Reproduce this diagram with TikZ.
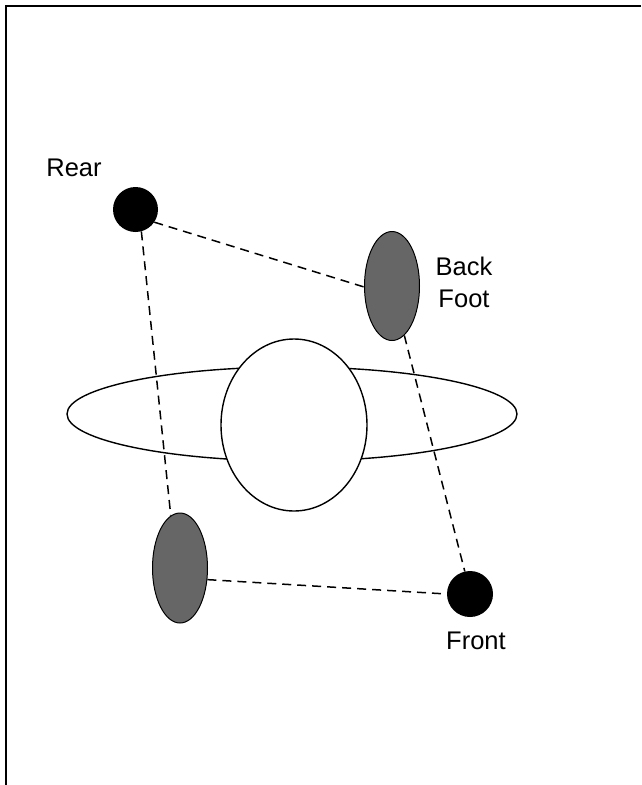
\documentclass[tikz,border=0pt]{standalone}
\usepackage{fontspec}
\setmainfont{Liberation Sans}
\usetikzlibrary{shapes.geometric}
\begin{document}
\begin{tikzpicture}[x=1pt,y=-1pt,
  frameline/.style={line width=2.2pt,black},
  dot/.style={circle,fill=black,inner sep=0pt,minimum size=45pt},
  foot/.style={ellipse,draw=black,line width=1pt,fill=black!60,inner sep=0pt,minimum width=55pt,minimum height=109pt},
  link/.style={dashed,dash pattern=on 9pt off 6pt,line width=1.5pt},
  lbl/.style={font=\fontsize{25.5}{32}\selectfont,align=center,inner sep=0pt},
  outline/.style={draw=black,line width=1.4pt}]
\useasboundingbox (0,0) rectangle (641,785);
% frame edges (top and left)
\coordinate (ftl) at (6,6);
\coordinate (ftr) at (641,6);
\coordinate (fbl) at (6,785);
\draw[frameline] (ftr) -- (ftl) -- (fbl);

% body: wide ellipse with the round torso over it
\node[ellipse,outline,inner sep=0pt,minimum width=450pt,minimum height=94pt] (wing) at (292,414) {};
\node[ellipse,outline,fill=white,inner sep=0pt,minimum width=146pt,minimum height=172pt] (torso) at (294,425) {};

% contact points
\node[dot] (rear) at (135.5,209.5) {};
\node[dot,minimum size=46pt] (front) at (470,594) {};
\node[foot] (bf) at (392,286) {};
\node[foot,minimum height=110pt] (ff) at (180,568) {};

% labels
\node[lbl] (rearlbl) at (74,168) {Rear};
\node[lbl] (bflbl) at (464,282) {Back\\Foot};
\node[lbl] (frontlbl) at (476,641) {Front};

% dashed support polygon
\draw[link] (rear.-34) -- (bf.182);
\draw[link] (rear.-75) -- (ff.100);
\draw[link] (bf.-76) -- (front.103);
\draw[link] (ff.-23) -- (front.180);
\end{tikzpicture}
\end{document}
